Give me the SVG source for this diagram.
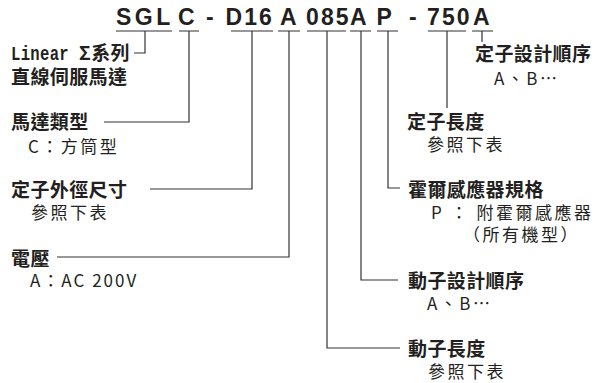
<svg xmlns="http://www.w3.org/2000/svg" width="605" height="383" viewBox="0 0 605 383" xml:lang="zh-Hant-TW" lang="zh-Hant-TW">
<style>
  .code { font-family: "Liberation Sans", Arial, sans-serif; font-weight: bold; font-size: 23px; fill: #231f20; letter-spacing: 3.5px; }
  .num { letter-spacing: 2.1px; }
  .h { font-family: "Noto Sans CJK TC", sans-serif; font-weight: bold; font-size: 19px; fill: #231f20; letter-spacing: 0.4px; }
  .s { font-family: "Noto Sans CJK TC", sans-serif; font-size: 17px; fill: #231f20; letter-spacing: 2.5px; }
  .mono { font-family: "Liberation Mono", monospace; font-weight: bold; font-size: 20px; }
  .ln { fill: none; stroke: #333; stroke-width: 1.2; }
</style>
<rect width="605" height="383" fill="#fff"/>
<g id="code">
  <text class="code" x="116" y="25">SGL</text>
  <text class="code" x="178" y="25">C</text>
  <text class="code" x="206" y="25">-</text>
  <text class="code num" x="225.5" y="25">D16</text>
  <text class="code" x="280" y="25">A</text>
  <text class="code num" x="306" y="25">085</text>
  <text class="code" x="350" y="25">A</text>
  <text class="code" x="376.5" y="25">P</text>
  <text class="code" x="409" y="25">-</text>
  <text class="code num" x="427" y="25">750</text>
  <text class="code" x="473" y="25">A</text>
</g>
<g id="connectors">
  <path class="ln" d="M116,31 H172 M145,31 V53 H134"/>
  <path class="ln" d="M179,31 H199 M189,31 V122 H104"/>
  <path class="ln" d="M231,31 H273 M252,31 V189 H150"/>
  <path class="ln" d="M278,31 H300 M289,31 V257 H57"/>
  <path class="ln" d="M307,31 H346 M327,31 V348 H400"/>
  <path class="ln" d="M350,31 H371 M361,31 V280 H398"/>
  <path class="ln" d="M377,31 H398 M388,31 V188 H400"/>
  <path class="ln" d="M428,31 H466 M447,31 V108"/>
  <path class="ln" d="M472,31 H493 M482,31 V42"/>
</g>
<g id="series">
  <text class="h" x="11" y="60"><tspan class="mono" textLength="58" lengthAdjust="spacingAndGlyphs">Linear</tspan><tspan x="79">Σ系列</tspan></text>
  <text class="h" x="11" y="84">直線伺服馬達</text>
</g>
<g id="motor-type">
  <text class="h" x="11" y="129">馬達類型</text>
  <text class="s" x="28" y="153">C：方筒型</text>
</g>
<g id="stator-od">
  <text class="h" x="11" y="197">定子外徑尺寸</text>
  <text class="s" x="31" y="219">參照下表</text>
</g>
<g id="voltage">
  <text class="h" x="11" y="266">電壓</text>
  <text class="s" x="30" y="287" style="letter-spacing:2px">A：AC 200V</text>
</g>
<g id="stator-design">
  <text class="h" x="475" y="61">定子設計順序</text>
  <text class="s" x="494" y="85">A、B…</text>
</g>
<g id="stator-length">
  <text class="h" x="407" y="129">定子長度</text>
  <text class="s" x="427" y="151">參照下表</text>
</g>
<g id="hall-sensor">
  <text class="h" x="408" y="197">霍爾感應器規格</text>
  <text class="s" x="431" y="219">P ： 附霍爾感應器</text>
  <text class="s" x="463" y="241">（所有機型）</text>
</g>
<g id="mover-design">
  <text class="h" x="408" y="288">動子設計順序</text>
  <text class="s" x="427" y="310">A、B…</text>
</g>
<g id="mover-length">
  <text class="h" x="408" y="356">動子長度</text>
  <text class="s" x="428" y="378">參照下表</text>
</g>
</svg>
